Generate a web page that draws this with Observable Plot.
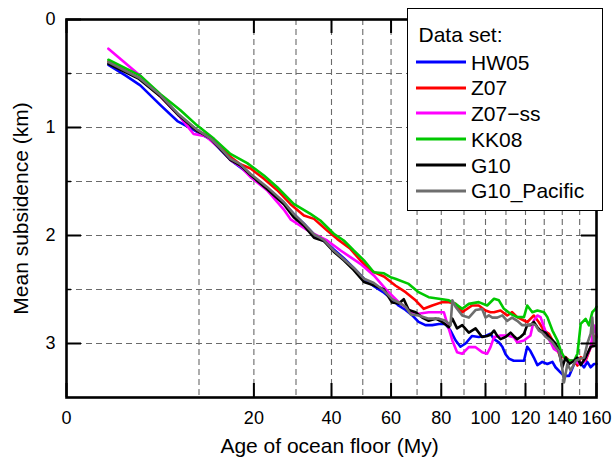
<!DOCTYPE html>
<html><head><meta charset="utf-8">
<script src="https://cdn.jsdelivr.net/npm/d3@7"></script>
<script src="https://cdn.jsdelivr.net/npm/@observablehq/plot@0.6"></script>
<style>
body{margin:0;background:#fff;font-family:"Liberation Sans",Arial,Helvetica,sans-serif;}
#wrap{position:relative;width:613px;height:458px;}
#legend{position:absolute;left:407px;top:8px;width:194px;height:201px;border:1.5px solid #000;background:#fff;font-size:21px;color:#000;}
#legend .t{position:absolute;line-height:21px;height:21px;white-space:nowrap;}
#legend svg{position:absolute;}
</style></head><body><div id="wrap"></div>
<script>
// [age (My), mean subsidence (km)]
const hw05 = [[1,0.42],[2,0.52],[3.1,0.61],[5,0.79],[7,0.94],[8.3,0.99],[10,1.05],[11.8,1.11],[15.3,1.30],[19.3,1.44],[22.9,1.56],[26.9,1.70],[29.4,1.80],[32.1,1.89],[34.9,1.99],[38.7,2.07],[40.7,2.13],[43.8,2.21],[47,2.30],[50.4,2.40],[53.8,2.47],[57.4,2.53],[60.4,2.59],[62.9,2.65],[65.5,2.69],[68.1,2.74],[70.6,2.80],[73.4,2.83],[76.2,2.83],[79,2.82],[81.8,2.82],[84,2.88],[86.2,2.97],[88.4,3.03],[90.7,3.00],[93.7,2.93],[96.8,2.94],[100,2.93],[102.4,2.91],[104.1,2.96],[106.5,2.99],[108.2,3.03],[109.8,3.10],[111.5,3.14],[113.9,3.16],[116.5,3.16],[119.2,3.16],[120.9,3.03],[122.6,3.07],[124.4,3.13],[126.3,3.20],[128.9,3.17],[131.7,3.19],[134.5,3.17],[136.2,3.22],[139.1,3.27],[141,3.30],[143.9,3.30],[146.8,3.19],[149.7,3.17],[152.6,3.22],[154.5,3.17],[156.5,3.22],[158.5,3.19],[160,3.19]];
const z07 = [[1,0.39],[3,0.54],[5,0.71],[7.2,0.89],[9.7,1.03],[11.8,1.09],[15.3,1.27],[17.2,1.34],[19.3,1.38],[22.2,1.475],[25.3,1.58],[28.6,1.71],[32.1,1.815],[34.9,1.846],[38.7,1.954],[41.7,2.031],[45.9,2.123],[49.2,2.231],[52.6,2.324],[57.4,2.38],[61.6,2.463],[65.5,2.525],[69.4,2.60],[72.7,2.679],[76.2,2.648],[80.4,2.617],[83.3,2.617],[86.2,2.633],[89.2,2.71],[93.7,2.648],[96.8,2.648],[100,2.694],[102.4,2.71],[104.1,2.71],[107.3,2.694],[110.6,2.741],[113.1,2.71],[115.7,2.756],[119.2,2.787],[120.9,2.803],[122.6,2.772],[124.4,2.741],[127.1,2.803],[129.9,2.88],[132.6,2.911],[134.5,2.972],[137.3,3.065],[139.1,3.126],[141.9,3.126],[143.9,3.157],[146.8,3.157],[148.7,3.204],[150.6,3.126],[153.5,3.157],[156.5,3.034],[159.4,2.926]];
const z07ss = [[1,0.27],[3.1,0.52],[5,0.71],[7.2,0.89],[9.2,1.06],[11,1.08],[13.5,1.20],[15.3,1.30],[17.2,1.36],[19.3,1.46],[22.9,1.58],[26.9,1.76],[28.6,1.85],[33.9,1.97],[38.7,2.046],[42.8,2.139],[49.2,2.262],[53.8,2.37],[58,2.494],[60.4,2.556],[62.9,2.617],[65.5,2.664],[68.1,2.71],[70.6,2.725],[74.7,2.71],[79,2.71],[81.1,2.71],[82.6,2.818],[84.8,2.972],[86.9,3.08],[89.2,3.095],[92.2,3.034],[95.3,3.034],[98.4,3.08],[100.8,3.095],[102.4,3.034],[104.1,2.941],[107.3,2.926],[110.6,2.926],[113.9,2.941],[115.7,2.988],[119.2,2.972],[122.6,2.926],[124.4,2.787],[126.3,2.741],[128,2.756],[129.9,2.849],[131.7,2.941],[133.5,2.988],[135.3,3.05],[138.1,3.08],[141,3.126],[143.9,3.157],[146.8,3.157],[149.7,3.188],[152.6,3.173],[156.5,3.034],[158.5,2.833],[160,2.926]];
const kk08 = [[1,0.373],[3.1,0.52],[5,0.69],[7.4,0.84],[9.7,0.98],[12.4,1.105],[15.3,1.245],[18.6,1.33],[22.2,1.444],[25.3,1.553],[29.4,1.707],[33.9,1.80],[36.7,1.861],[40.7,1.984],[43.8,2.046],[47,2.139],[50.4,2.23],[53.8,2.34],[57.4,2.35],[59.8,2.386],[61.6,2.40],[66.7,2.448],[70.6,2.525],[74.7,2.571],[79,2.586],[83.3,2.60],[86.2,2.633],[89.2,2.679],[92.2,2.633],[96.8,2.617],[100.8,2.648],[104.1,2.586],[106.5,2.60],[109,2.679],[112.3,2.725],[115.7,2.756],[119.2,2.756],[120.9,2.648],[123.6,2.71],[126.3,2.694],[129.9,2.71],[131.7,2.756],[134.5,2.88],[137.3,2.972],[139.1,3.065],[141,3.126],[143.9,3.157],[146.8,3.157],[148.7,3.095],[150.6,2.818],[153.5,2.772],[155.5,2.833],[157.5,2.71],[159.4,2.679],[160,2.66]];
const g10 = [[1,0.41],[3,0.55],[5,0.71],[7.2,0.89],[9.7,1.03],[11.8,1.10],[13.5,1.20],[15.3,1.30],[17.2,1.35],[19.3,1.44],[22.9,1.57],[26.9,1.71],[29.4,1.83],[32.1,1.91],[34.9,2.02],[37.7,2.05],[40.7,2.15],[43.8,2.23],[47,2.32],[50.4,2.43],[53.8,2.46],[57.4,2.50],[60.4,2.62],[62.9,2.63],[64.8,2.59],[66.7,2.69],[69.4,2.71],[72.1,2.76],[74.7,2.79],[77.6,2.77],[80.4,2.80],[83.3,2.85],[84.8,2.77],[86.9,2.86],[89.2,2.83],[92.2,2.90],[95.3,2.86],[98.4,2.94],[100.8,2.93],[102.4,2.92],[104.1,2.88],[105.7,2.93],[107.3,2.96],[109.8,2.94],[112.3,2.90],[113.9,2.93],[115.7,2.96],[117.4,2.94],[119.2,2.91],[120.9,2.83],[122.6,2.83],[124.4,2.80],[126.3,2.85],[128,2.88],[130.8,2.90],[132.6,2.94],[134.5,2.97],[136.2,3.00],[138.1,3.07],[140,3.22],[141.9,3.13],[143.9,3.19],[146.8,3.16],[148.7,3.13],[150.6,3.20],[153.5,3.13],[156.5,3.03],[159.4,3.02]];
const g10Pacific = [[1,0.395],[3,0.54],[5,0.70],[7.2,0.88],[9.7,1.02],[11.8,1.10],[13.5,1.19],[15.3,1.29],[17.2,1.34],[19.3,1.43],[22.9,1.55],[26.9,1.69],[29.4,1.80],[32.1,1.89],[34.9,1.99],[37.7,2.04],[40.7,2.14],[43.8,2.22],[47,2.30],[50.4,2.40],[53.8,2.44],[57.4,2.51],[60.4,2.59],[62.9,2.62],[65.5,2.66],[67.5,2.73],[70.6,2.74],[74.7,2.77],[79,2.77],[81.8,2.79],[84,2.83],[84.8,2.60],[86.2,2.66],[89.2,2.74],[92.2,2.76],[95.3,2.69],[98.4,2.68],[100,2.76],[101.6,2.74],[103.3,2.76],[105.7,2.76],[108.2,2.74],[110.6,2.79],[113.1,2.76],[115.7,2.79],[118.3,2.83],[120.9,2.83],[123.6,2.82],[125.3,2.83],[127.1,2.88],[128.9,2.90],[130.8,2.94],[132.6,2.96],[134.5,2.99],[136.2,3.03],[138.1,3.07],[140,3.23],[141,3.36],[142.9,3.19],[144.8,3.25],[147.7,3.16],[150.6,3.14],[152.6,3.13],[154.5,3.00],[156.5,2.91],[157.5,2.76],[158.5,3.00],[160,2.94]];

const seriesNames = ["HW05", "Z07", "Z07\u2212ss", "KK08", "G10", "G10_Pacific"];
const seriesData = [hw05, z07, z07ss, kk08, g10, g10Pacific];
const seriesColors = ["#0000ff", "#ff0000", "#ff00ff", "#00c800", "#000000", "#6e6e6e"];

const xTicks = [0, 20, 40, 60, 80, 100, 120, 140, 160];
const xGrid = [10, 20, 30, 40, 50, 60, 70, 80, 90, 100, 110, 120, 130, 140, 150];
const yTicks = [0, 1, 2, 3];
const yMinor = [0.5, 1.5, 2.5];
const yGrid = [0.5, 1, 1.5, 2, 2.5, 3];

const xLabel = "Age of ocean floor (My)";
const yLabel = "Mean subsidence (km)";
const legendTitle = "Data set:";

const rows = [];
seriesNames.forEach((name, i) => seriesData[i].forEach(([age, depth]) => rows.push({series: name, age, depth})));

const W = 613, H = 458, mt = 19, mr = 17, mb = 61, ml = 66;
const innerW = W - ml - mr, innerH = H - mt - mb;

const chart = Plot.plot({
  width: W, height: H,
  marginTop: mt, marginRight: mr, marginBottom: mb, marginLeft: ml,
  style: {fontFamily: '"Liberation Sans", Arial, Helvetica, sans-serif', color: "#000", background: "#fff"},
  x: {type: "sqrt", domain: [0, 160]},
  y: {domain: [0, 3.5], reverse: true},
  color: {domain: seriesNames, range: seriesColors},
  marks: [
    Plot.ruleX(xGrid, {stroke: "#6a6a6a", strokeWidth: 1.1, strokeDasharray: "6,4"}),
    Plot.ruleY(yGrid, {stroke: "#6a6a6a", strokeWidth: 1.1, strokeDasharray: "6,4"}),
    Plot.line(rows, {x: "age", y: "depth", z: "series", stroke: "series", strokeWidth: 2.6, strokeLinejoin: "round", strokeLinecap: "round"}),
    Plot.ruleX(xTicks, {stroke: "#000", strokeWidth: 2, insetTop: innerH - 14}),
    Plot.ruleX(xTicks, {stroke: "#000", strokeWidth: 2, insetBottom: innerH - 14}),
    Plot.ruleY(yTicks, {stroke: "#000", strokeWidth: 2, insetRight: innerW - 15}),
    Plot.ruleY(yTicks, {stroke: "#000", strokeWidth: 2, insetLeft: innerW - 15}),
    Plot.ruleY(yMinor, {stroke: "#000", strokeWidth: 1.5, insetRight: innerW - 5}),
    Plot.ruleY(yMinor, {stroke: "#000", strokeWidth: 1.5, insetLeft: innerW - 5}),
    Plot.frame({stroke: "#000", strokeWidth: 2.6}),
    Plot.axisX({ticks: xTicks, tickSize: 0, tickPadding: 14, fontSize: 18, label: null, tickFormat: d => String(d)}),
    Plot.axisY({ticks: yTicks, tickSize: 0, tickPadding: 11, fontSize: 18, label: null, tickFormat: d => String(d)}),
    Plot.text([xLabel], {text: d => d, frameAnchor: "bottom", dy: 49, dx: -2, fontSize: 21, lineAnchor: "middle", textAnchor: "middle"}),
    Plot.text([yLabel], {text: d => d, frameAnchor: "left", dx: -45, rotate: -90, fontSize: 21, lineAnchor: "middle", textAnchor: "middle"})
  ]
});

const wrap = document.getElementById("wrap");
wrap.appendChild(chart);

// Legend box (overlapping the frame, as in the original)
const leg = document.createElement("div");
leg.id = "legend";
wrap.appendChild(leg);
const title = document.createElement("div");
title.className = "t";
title.style.left = "10.5px";
title.style.top = "15px";
title.textContent = legendTitle;
leg.appendChild(title);
seriesNames.forEach((name, i) => {
  const cy = 53 + i * 25.7;
  const sw = document.createElementNS("http://www.w3.org/2000/svg", "svg");
  sw.setAttribute("width", "54"); sw.setAttribute("height", "8");
  sw.style.left = "7px"; sw.style.top = (cy - 4) + "px";
  const ln = document.createElementNS("http://www.w3.org/2000/svg", "line");
  ln.setAttribute("x1", "1"); ln.setAttribute("x2", "51"); ln.setAttribute("y1", "4"); ln.setAttribute("y2", "4");
  ln.setAttribute("stroke", seriesColors[i]); ln.setAttribute("stroke-width", "2.8");
  sw.appendChild(ln);
  leg.appendChild(sw);
  const t = document.createElement("div");
  t.className = "t";
  t.style.left = "63px";
  t.style.top = (cy - 10.3) + "px";
  t.textContent = name;
  leg.appendChild(t);
});
</script>
</body></html>
